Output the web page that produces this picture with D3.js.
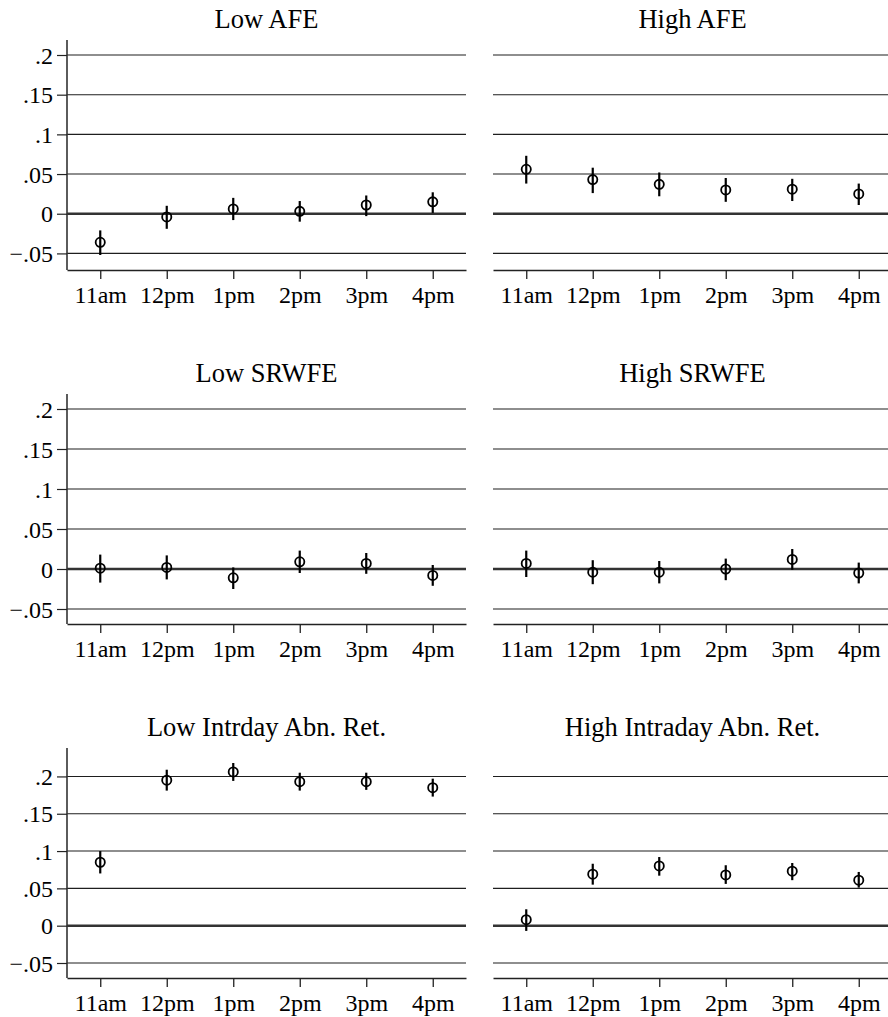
<!DOCTYPE html>
<html>
<head>
<meta charset="utf-8">
<script src="https://cdn.jsdelivr.net/npm/d3@7"></script>
<style>
  body { margin: 0; background: #fff; }
  svg { display: block; font-family: "Liberation Serif", "Times New Roman", serif; }
</style>
</head>
<body>
<svg></svg>
<script>
var width = 888;
var height = 1017;
var svg = d3.select("svg");
svg.attr('width', width).attr('height', height);

var hours = ["11am", "12pm", "1pm", "2pm", "3pm", "4pm"];
var yTicks = [-0.05, 0, 0.05, 0.1, 0.15, 0.2];

var titles = ["Low AFE", "High AFE", "Low SRWFE", "High SRWFE",
              "Low Intrday Abn. Ret.", "High Intraday Abn. Ret."];

// point estimates and confidence bounds, one array per panel
var lowAFE    = [-0.036, -0.004, 0.006, 0.003, 0.011, 0.015];
var lowAFELo  = [-0.052, -0.019, -0.008, -0.010, -0.003, 0.001];
var lowAFEHi  = [-0.021, 0.010, 0.020, 0.016, 0.023, 0.027];

var highAFE   = [0.056, 0.043, 0.037, 0.030, 0.031, 0.025];
var highAFELo = [0.038, 0.026, 0.022, 0.015, 0.016, 0.011];
var highAFEHi = [0.073, 0.058, 0.052, 0.045, 0.044, 0.038];

var lowSRWFE   = [0.001, 0.002, -0.011, 0.009, 0.007, -0.008];
var lowSRWFELo = [-0.017, -0.013, -0.025, -0.005, -0.006, -0.021];
var lowSRWFEHi = [0.018, 0.017, 0.002, 0.023, 0.020, 0.005];

var highSRWFE   = [0.007, -0.004, -0.004, 0.000, 0.012, -0.005];
var highSRWFELo = [-0.010, -0.019, -0.018, -0.014, -0.001, -0.018];
var highSRWFEHi = [0.023, 0.011, 0.010, 0.013, 0.025, 0.008];

var lowIAR   = [0.085, 0.195, 0.206, 0.193, 0.193, 0.185];
var lowIARLo = [0.070, 0.181, 0.194, 0.181, 0.182, 0.173];
var lowIARHi = [0.100, 0.209, 0.218, 0.205, 0.205, 0.197];

var highIAR   = [0.008, 0.069, 0.080, 0.068, 0.073, 0.061];
var highIARLo = [-0.007, 0.055, 0.067, 0.056, 0.061, 0.051];
var highIARHi = [0.022, 0.083, 0.092, 0.081, 0.084, 0.072];

var panels = [
  [lowAFE, lowAFELo, lowAFEHi], [highAFE, highAFELo, highAFEHi],
  [lowSRWFE, lowSRWFELo, lowSRWFEHi], [highSRWFE, highSRWFELo, highSRWFEHi],
  [lowIAR, lowIARLo, lowIARHi], [highIAR, highIARLo, highIARHi]
];

// layout
var rowTop = [40, 394, 748];
var plotH = 230;
var pad = 15;
var colX = [[67, 466], [493, 892]];

function fmt(v) {
  if (Math.abs(v) < 1e-9) return "0";
  var s = String(+v.toFixed(2)).replace("0.", ".");
  return s.replace("-", "\u2212");
}

function drawPanel(r, c, yScale, yTop, yBottom) {
  var idx = 2 * r + c;
  var data = panels[idx];
  var x0 = colX[c][0], x1 = colX[c][1];

  var xScale = d3.scaleLinear()
                 .domain([0.5, 6.5])
                 .range([x0, x1]);

  var g = svg.append('g');

  // title
  g.append('text')
    .attr('x', (x0 + x1) / 2)
    .attr('y', yTop - 12)
    .attr('text-anchor', 'middle')
    .attr('font-size', 26.5)
    .text(titles[idx]);

  // grid lines
  g.selectAll('line.grid')
    .data(yTicks)
    .enter()
    .append('line')
    .attr('class', 'grid')
    .attr('x1', x0)
    .attr('x2', x1)
    .attr('y1', function(d) { return yScale(d); })
    .attr('y2', function(d) { return yScale(d); })
    .attr('stroke', function(d) { return d === 0 ? '#333' : '#1e1e1e'; })
    .attr('stroke-width', function(d) { return d === 0 ? 2.4 : 1.1; });

  // x axis
  var xAxis = d3.axisBottom(xScale)
                .tickValues([1, 2, 3, 4, 5, 6])
                .tickFormat(function(d) { return hours[d - 1]; })
                .tickSize(9)
                .tickSizeOuter(0);
  var gx = g.append('g')
    .attr('transform', 'translate(0,' + yBottom + ')')
    .call(xAxis)
    .attr('font-family', null)
    .attr('font-size', 24);
  gx.select('.domain').attr('stroke', '#222').attr('stroke-width', 1.5);
  gx.selectAll('.tick line').attr('stroke', '#222').attr('stroke-width', 1.3);
  gx.selectAll('.tick text')
    .attr('dy', null)
    .attr('y', 33)
    .attr('fill', '#000');

  // y axis only on the left column
  if (c === 0) {
    var yAxis = d3.axisLeft(yScale)
                  .tickValues(yTicks)
                  .tickFormat(fmt)
                  .tickSize(10)
                  .tickSizeOuter(0);
    var gy = g.append('g')
      .attr('transform', 'translate(' + x0 + ',0)')
      .call(yAxis)
      .attr('font-family', null)
      .attr('font-size', 24);
    gy.select('.domain')
      .attr('d', 'M0,' + yTop + 'V' + yBottom)
      .attr('stroke', '#333').attr('stroke-width', 1.6);
    gy.selectAll('.tick line').attr('stroke', '#222').attr('stroke-width', 1.2);
    gy.selectAll('.tick text')
      .attr('x', -14)
      .attr('dy', '0.34em')
      .attr('fill', '#000');
  }

  var pts = data[0].map(function(v, i) {
    return { x: i + 1, est: v, lo: data[1][i], hi: data[2][i] };
  });

  // confidence intervals
  g.selectAll('line.ci')
    .data(pts)
    .enter()
    .append('line')
    .attr('class', 'ci')
    .attr('x1', function(d) { return xScale(d.x); })
    .attr('x2', function(d) { return xScale(d.x); })
    .attr('y1', function(d) { return yScale(d.lo); })
    .attr('y2', function(d) { return yScale(d.hi); })
    .attr('stroke', '#000')
    .attr('stroke-width', 2.2);

  // point estimates
  g.selectAll('circle')
    .data(pts)
    .enter()
    .append('circle')
    .attr('cx', function(d) { return xScale(d.x); })
    .attr('cy', function(d) { return yScale(d.est); })
    .attr('r', 4.6)
    .attr('fill', 'none')
    .attr('stroke', '#000')
    .attr('stroke-width', 1.8);
}

for (var r = 0; r < 3; r++) {
  // shared y range per row
  var lo = d3.min([panels[2 * r][1], panels[2 * r + 1][1]], function(a) { return d3.min(a); });
  var hi = d3.max([panels[2 * r][2], panels[2 * r + 1][2]], function(a) { return d3.max(a); });
  var yTop = rowTop[r];
  var yBottom = yTop + plotH;

  var yScale = d3.scaleLinear()
                 .domain([Math.min(-0.05, lo), Math.max(0.2, hi)])
                 .range([yBottom - pad, yTop + pad]);

  drawPanel(r, 0, yScale, yTop, yBottom);
  drawPanel(r, 1, yScale, yTop, yBottom);
}
</script>
</body>
</html>
